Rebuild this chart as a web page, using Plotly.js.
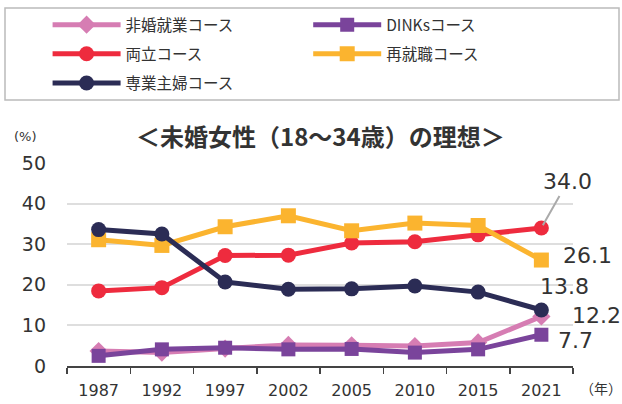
<!DOCTYPE html>
<html><head><meta charset="utf-8">
<script src="https://cdn.plot.ly/plotly-3.0.1.min.js"></script>
<style>html,body{margin:0;padding:0;background:#fff}#chart{width:622px;height:404px}</style>
</head><body><div id="chart"></div>
<script>
const years = ['1987','1992','1997','2002','2005','2010','2015','2021'];
const hikonShugyo = [3.7, 3.3, 4.3, 5.2, 5.1, 4.9, 5.8, 12.2];
const dinks = [2.5, 4.1, 4.5, 4.1, 4.2, 3.3, 4.1, 7.7];
const ryoritsu = [18.5, 19.3, 27.2, 27.3, 30.3, 30.6, 32.3, 34.0];
const saishushoku = [31.1, 29.7, 34.3, 37.0, 33.3, 35.2, 34.6, 26.1];
const sengyoShufu = [33.6, 32.5, 20.7, 18.9, 19.0, 19.7, 18.2, 13.8];
const seriesNames = ['非婚就業コース','DINKsコース','両立コース','再就職コース','専業主婦コース'];

const numFont = 'DejaVu Sans, Noto Sans CJK JP, sans-serif';
const jpFont = 'Noto Sans CJK JP, sans-serif';

function tr(name, y, color, symbol, size, legend){
  return {type:'scatter', mode:'lines+markers', x:years, y:y, name:name,
    line:{color:color, width:5}, marker:{color:color, symbol:symbol, size:size},
    legend:legend, legendgroup:name, hoverinfo:'skip'};
}
const traces = [
  tr(seriesNames[0], hikonShugyo, '#D67DB3', 'diamond', 14, 'legend'),
  tr(seriesNames[1], dinks, '#7A449B', 'square', 14, 'legend2'),
  tr(seriesNames[2], ryoritsu, '#EE2B3E', 'circle', 15, 'legend'),
  tr(seriesNames[3], saishushoku, '#FBB42F', 'square', 15, 'legend2'),
  tr(seriesNames[4], sengyoShufu, '#2B2C55', 'circle', 15, 'legend')
];

const last = years.length - 1;
const lab = (arr, xs, ys) => ({x:last, y:arr[last], text:arr[last].toFixed(1), showarrow:false,
  xshift:xs, yshift:ys, font:{family:numFont, size:22, color:'#333'}});
const annotations = [
  {x:last, y:ryoritsu[last], text:ryoritsu[last].toFixed(1), showarrow:true, arrowhead:0,
   arrowcolor:'#aaa', arrowwidth:2, ax:26, ay:-46, standoff:3,
   font:{family:numFont, size:22, color:'#333'}},
  lab(saishushoku, 46, 5),
  lab(sengyoShufu, 23, 23),
  lab(hikonShugyo, 55, 1),
  lab(dinks, 34, -6),
  {xref:'paper', yref:'paper', x:0.5, y:1.135, text:'<b>＜未婚女性（18～34歳）の理想＞</b>', showarrow:false,
   xanchor:'center', yanchor:'middle', font:{family:jpFont, size:24, color:'#333'}},
  {xref:'paper', yref:'paper', x:-0.082, y:1.13, text:'(%)', showarrow:false,
   xanchor:'center', yanchor:'middle', font:{family:numFont, size:13, color:'#333'}},
  {xref:'paper', yref:'paper', x:1.055, y:-0.11, text:'（年）', showarrow:false,
   xanchor:'center', yanchor:'middle', font:{family:jpFont, size:14, color:'#333'}}
];

const layout = {
  width:622, height:404,
  margin:{l:67, r:49, t:163, b:38, autoexpand:false},
  paper_bgcolor:'#fff', plot_bgcolor:'#fff',
  xaxis:{type:'category', range:[-0.5, 7.5], tickson:'boundaries', ticks:'outside', ticklen:6,
    tickcolor:'#444', tickwidth:1.5, showline:true, linecolor:'#444', linewidth:1.5, tickangle:0,
    ticklabelstandoff:9,
    showgrid:false, tickfont:{family:numFont, size:16, color:'#333'}, fixedrange:true},
  yaxis:{range:[0,50], dtick:10, tick0:0, showgrid:true, gridcolor:'#dedede', gridwidth:2,
    zeroline:false, showline:false, ticks:'', ticklabelstandoff:20,
    tickfont:{family:numFont, size:19, color:'#333'}, fixedrange:true},
  legend:{xref:'container', yref:'container', x:0.0765, y:0.98, xanchor:'left', yanchor:'top', itemwidth:68,
    orientation:'v', tracegroupgap:6, font:{family:jpFont, size:15.5, color:'#333'}, bgcolor:'rgba(0,0,0,0)'},
  legend2:{xref:'container', yref:'container', x:0.4955, y:0.98, xanchor:'left', yanchor:'top', itemwidth:68,
    orientation:'v', tracegroupgap:6, font:{family:jpFont, size:15.5, color:'#333'}, bgcolor:'rgba(0,0,0,0)'},
  shapes:[{type:'rect', xref:'paper', yref:'paper', x0:(5-67)/506, x1:(619-67)/506,
    y0:(366-100)/203, y1:(366-8)/203, line:{color:'#bbb', width:1.5}, fillcolor:'rgba(0,0,0,0)'}],
  annotations:annotations,
  showlegend:true
};
Plotly.newPlot('chart', traces, layout, {displayModeBar:false, staticPlot:true});
</script></body></html>
